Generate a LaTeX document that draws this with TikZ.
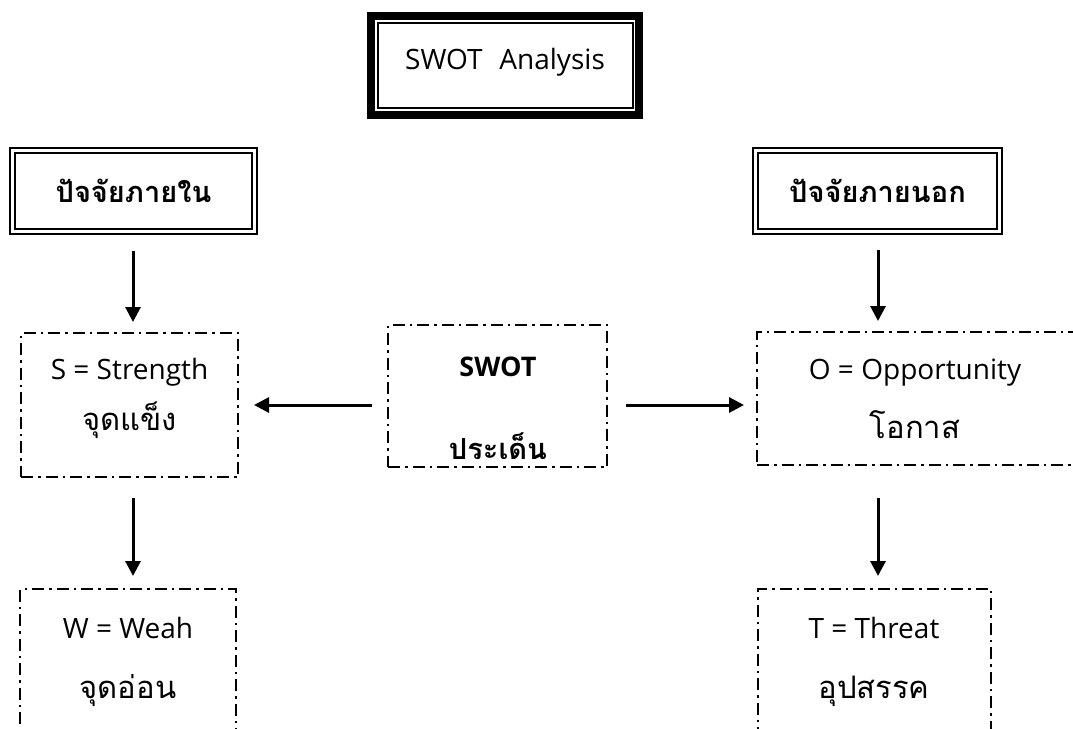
\documentclass[tikz,border=0pt]{standalone}
\usepackage{fontspec}
\setmainfont{Open Sans}
\newfontfamily\thai[Script=Thai]{Loma}
\usetikzlibrary{arrows.meta}
\tikzset{
  dd/.style={draw, line width=2pt, dash pattern=on 12pt off 5pt on 2.5pt off 5pt, inner sep=0pt},
  dbl/.style={draw, line width=2pt, inner sep=0pt},
  arr/.style={line width=3pt, -{Triangle[length=15pt,width=15pt]}},
  lat/.style={font=\fontsize{28}{30}\selectfont, inner sep=0pt},
  th/.style={font=\thai\fontsize{31}{34}\selectfont, inner sep=0pt},
  thb/.style={font=\thai\bfseries\fontsize{29}{32}\selectfont, inner sep=0pt},
}
\begin{document}
\begin{tikzpicture}[x=1pt,y=-1pt]
\clip (0,0) rectangle (1073,728);
\fill[white] (0,0) rectangle (1073,728);
% title box
\node[draw, line width=8pt, minimum width=268pt, minimum height=98.5pt, inner sep=0pt] (title) at (505,65.25) {};
\draw[line width=2pt] (378,23) rectangle (633,108);
\node[lat] (titletext) at (505,62) {SWOT\hspace{0.6em}Analysis};
% internal / external factor boxes
\node[dbl, minimum width=247pt, minimum height=86pt] (inL) at (133.5,191) {};
\draw[line width=2.5pt] (15,153) rectangle (252,229);
\node[thb] (inLt) at (133.5,191) {ปัจจัยภายใน};
\node[dbl, minimum width=249pt, minimum height=86pt] (outR) at (877.5,191) {};
\draw[line width=2.5pt] (758,153) rectangle (997,229);
\node[thb] (outRt) at (877.5,191) {ปัจจัยภายนอก};
% S box
\node[dd, minimum width=217pt, minimum height=144pt] (S) at (129.5,405) {};
\node[lat] (St) at (129.5,372) {S = Strength};
\node[th] (St2) at (129.5,420) {จุดแข็ง};
% centre box
\node[dd, minimum width=219pt, minimum height=142pt] (C) at (497.5,396) {};
\node[lat, font=\bfseries\fontsize{27}{30}\selectfont] (Ct) at (498,367) {SWOT};
\node[thb] (Ct2) at (498,446) {ประเด็น};
% O box
\node[dd, minimum width=340pt, minimum height=133pt] (O) at (927,398.5) {};
\node[lat] (Ot) at (915,373) {O = Opportunity};
\node[th] (Ot2) at (915,425) {โอกาส};
% W box
\node[dd, minimum width=216pt, minimum height=180pt] (W) at (128,679) {};
\node[lat] (Wt) at (128,628) {W = Weah};
\node[th] (Wt2) at (128,691) {จุดอ่อน};
% T box
\node[dd, minimum width=233pt, minimum height=180pt] (T) at (874.5,679) {};
\node[lat] (Tt) at (874,628) {T = Threat};
\node[th] (Tt2) at (874,691) {อุปสรรค};
% connectors
\draw[arr, shorten <=16pt, shorten >=10pt] (inL.south -| 133,0) -- (133,0 |- S.north);
\draw[arr, shorten <=20pt, shorten >=12pt] (133,0 |- S.south) -- (133,0 |- W.north);
\draw[arr, shorten <=15pt, shorten >=10pt] (outR.south -| 878,0) -- (878,0 |- O.north);
\draw[arr, shorten <=32pt, shorten >=12pt] (878,0 |- O.south) -- (878,0 |- T.north);
\draw[arr, shorten <=15pt, shorten >=15pt] (C.west |- S.east) -- (S.east);
\draw[arr, shorten <=18pt, shorten >=12pt] (C.east |- S.east) -- (O.west |- S.east);
\end{tikzpicture}
\end{document}
